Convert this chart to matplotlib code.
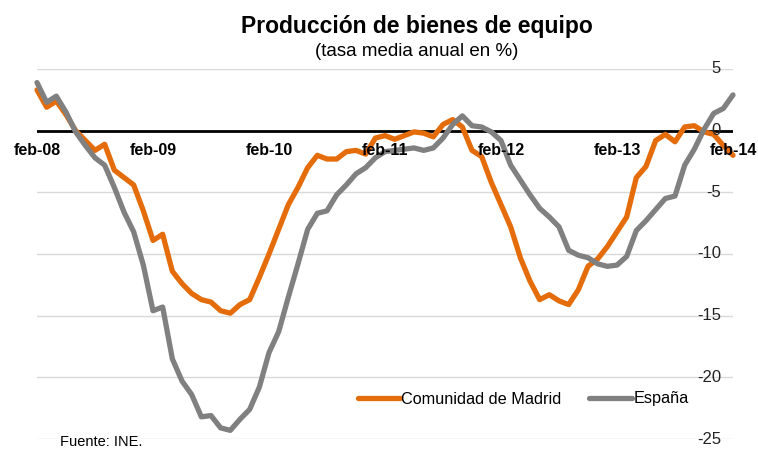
import matplotlib
matplotlib.use("Agg")
import matplotlib.pyplot as plt

plt.rcParams['font.family'] = ['Liberation Sans', 'DejaVu Sans']

# tasa media anual (%), mensual de feb-08 a feb-14
madrid = [3.3, 1.9, 2.4, 1.3, 0.0, -0.8, -1.6, -1.1, -3.2, -3.8, -4.4, -6.5,
          -8.9, -8.4, -11.4, -12.4, -13.2, -13.7, -13.9, -14.6, -14.8, -14.1, -13.7, -11.9,
          -10.0, -8.0, -6.0, -4.6, -3.0, -2.0, -2.3, -2.3, -1.7, -1.6, -1.9, -0.6,
          -0.4, -0.7, -0.4, -0.1, -0.2, -0.5, 0.5, 0.9, 0.3, -1.6, -2.1, -4.2,
          -6.0, -7.8, -10.3, -12.2, -13.7, -13.3, -13.8, -14.1, -12.9, -11.0, -10.4, -9.4,
          -8.2, -7.0, -3.8, -2.9, -0.8, -0.3, -0.9, 0.3, 0.4, -0.1, -0.3, -1.2,
          -2.0]
espana = [3.9, 2.3, 2.8, 1.5, -0.1, -1.2, -2.2, -2.8, -4.6, -6.6, -8.2, -10.9,
          -14.6, -14.3, -18.5, -20.3, -21.4, -23.2, -23.1, -24.1, -24.3, -23.4, -22.6, -20.8,
          -18.0, -16.3, -13.5, -10.8, -8.0, -6.7, -6.5, -5.2, -4.4, -3.5, -3.0, -2.2,
          -1.7, -1.6, -1.5, -1.4, -1.6, -1.4, -0.6, 0.5, 1.2, 0.4, 0.3, -0.1,
          -0.8, -2.8, -4.0, -5.2, -6.3, -7.0, -7.8, -9.7, -10.1, -10.3, -10.8, -11.0,
          -10.9, -10.2, -8.1, -7.3, -6.4, -5.5, -5.3, -2.8, -1.5, 0.1, 1.4, 1.8,
          2.9]
xlabels = ["feb-08", "feb-09", "feb-10", "feb-11", "feb-12", "feb-13", "feb-14"]
yticks = [5, 0, -5, -10, -15, -20, -25]

naranja = "#E46C0A"
gris = "#808080"

fig = plt.figure(figsize=(7.58, 4.5), dpi=100)
ax = fig.add_axes([37 / 758, 11 / 450, 696 / 758, 370 / 450])

x = list(range(len(madrid)))
ax.set_xlim(0, len(madrid) - 1)
ax.set_ylim(-25, 5)

# rejilla horizontal y eje en cero
for v in yticks:
    ax.axhline(v, color="#d9d9d9", lw=1.0, zorder=1)
ax.axhline(0, color="black", lw=2.0, zorder=2)

ax.plot(x, madrid, color=naranja, lw=3.8, solid_joinstyle="round",
        solid_capstyle="round", label="Comunidad de Madrid", zorder=3, clip_on=False)
ax.plot(x, espana, color=gris, lw=3.8, solid_joinstyle="round",
        solid_capstyle="round", label="España", zorder=4, clip_on=False)

# etiquetas del eje Y dentro del gráfico, a la derecha
ytr = ax.get_yaxis_transform()
for v in yticks:
    ax.text((721 - 37) / 696, v, str(v), transform=ytr, ha="right", va="center",
            fontsize=12, color="#222222", zorder=5)

# etiquetas de fecha bajo la línea de cero
for i, lab in enumerate(xlabels):
    ax.text(i * 12, -1.6, lab, ha="center", va="center", fontsize=11.5,
            fontweight="bold", zorder=5, clip_on=False)

ax.set_xticks([])
ax.set_yticks([])
for s in ax.spines.values():
    s.set_visible(False)

fig.text(417 / 758, 1 - 27 / 450, "Producción de bienes de equipo", ha="center",
         va="center", fontsize=16.5, fontweight="bold")
fig.text(417 / 758, 1 - 51 / 450, "(tasa media anual en %)", ha="center",
         va="center", fontsize=13.5)

ax.legend(loc="center", bbox_to_anchor=(523 / 758, 1 - 399 / 450),
          bbox_transform=fig.transFigure, ncol=2, frameon=False, fontsize=11.7,
          handlelength=2.6, handletextpad=0.1, columnspacing=1.7)

fig.text(60 / 758, 1 / 450, "Fuente: INE.", ha="left", va="bottom", fontsize=10.5)

fig.savefig("out.png", dpi=100)
